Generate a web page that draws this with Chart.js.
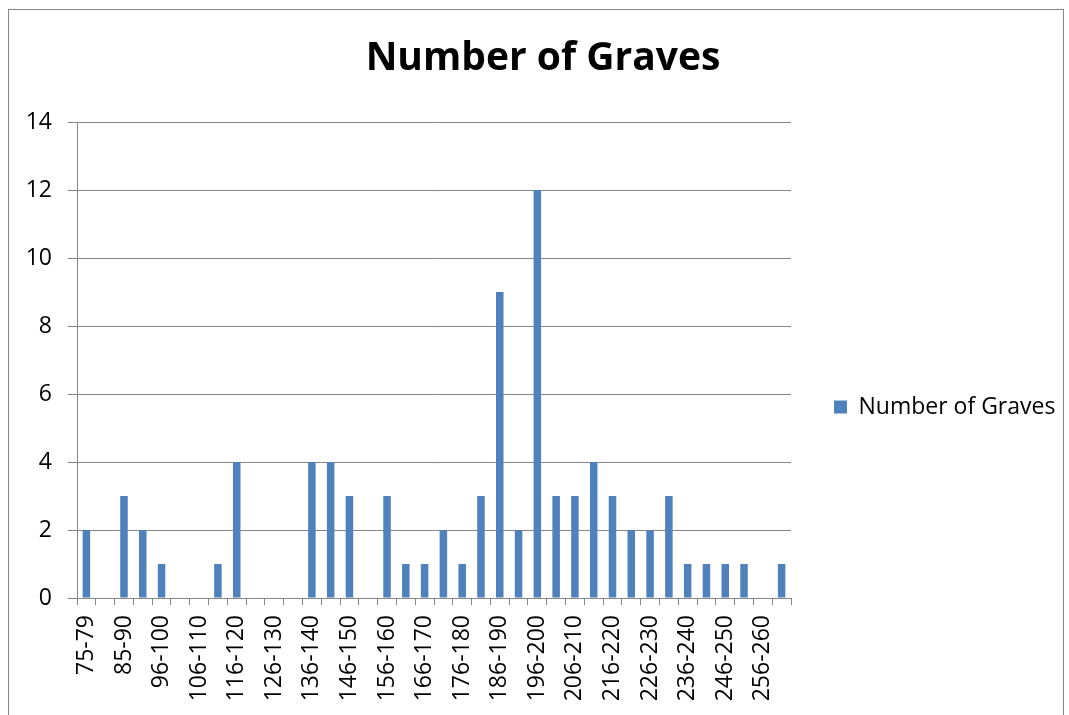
<!DOCTYPE html>
<html>
<head>
<meta charset="utf-8">
<script src="https://cdn.jsdelivr.net/npm/chart.js@4/dist/chart.umd.min.js"></script>
<style>
  html, body { margin: 0; padding: 0; background: #fff; }
  canvas { display: block; }
</style>
</head>
<body>
<canvas id="chart" width="1069" height="715"></canvas>
<script>
// grave size classes (only every second one is labelled on the axis)
var sizeClasses = [
  "75-79", "80-84", "85-90", "91-95", "96-100", "101-105", "106-110", "111-115",
  "116-120", "121-125", "126-130", "131-135", "136-140", "141-145", "146-150", "151-155",
  "156-160", "161-165", "166-170", "171-175", "176-180", "181-185", "186-190", "191-195",
  "196-200", "201-205", "206-210", "211-215", "216-220", "221-225", "226-230", "231-235",
  "236-240", "241-245", "246-250", "251-255", "256-260", "261-265"
];
var graveCounts = [
  2, 0, 3, 2, 1, 0, 0, 1,
  4, 0, 0, 0, 4, 4, 3, 0,
  3, 1, 1, 2, 1, 3, 9, 2,
  12, 3, 3, 4, 3, 2, 2, 3,
  1, 1, 1, 1, 0, 1
];
var yTicks = [0, 2, 4, 6, 8, 10, 12, 14];

var fontName = "'Open Sans'";
var gridGrey = "#868686";

// outer frame like the spreadsheet chart border
var framePlugin = {
  id: "frame",
  beforeDraw: function (chart) {
    var c = chart.ctx;
    c.save();
    c.strokeStyle = gridGrey;
    c.lineWidth = 1;
    c.strokeRect(8.5, 9.5, 1055, 720);
    c.restore();
  }
};

var ctx = document.getElementById("chart").getContext("2d");
new Chart(ctx, {
  type: "bar",
  data: {
    labels: sizeClasses,
    datasets: [{
      label: "Number of Graves",
      data: graveCounts,
      backgroundColor: "#4F81BD",
      borderWidth: 0,
      categoryPercentage: 1.0,
      barPercentage: 0.4
    }]
  },
  options: {
    responsive: false,
    animation: false,
    layout: { padding: { top: 10, left: 25, right: 8, bottom: -89 } },
    plugins: {
      title: {
        display: true,
        text: "Number of Graves",
        color: "#000",
        font: { family: fontName, size: 39, weight: "bold" },
        padding: { top: 25, bottom: 40.2 }
      },
      legend: {
        display: true,
        position: "right",
        maxWidth: 270,
        labels: {
          color: "#000",
          font: { family: fontName, size: 23 },
          boxWidth: 13,
          boxHeight: 13,
          padding: 43
        }
      },
      tooltip: { enabled: false }
    },
    scales: {
      x: {
        offset: true,
        grid: {
          offset: true,
          drawOnChartArea: false,
          drawTicks: true,
          tickLength: 7,
          color: gridGrey
        },
        border: { color: gridGrey, width: 1 },
        ticks: {
          autoSkip: false,
          minRotation: 90,
          maxRotation: 90,
          padding: 10,
          color: "#000",
          font: { family: fontName, size: 23 },
          callback: function (value, index) {
            return index % 2 === 0 ? sizeClasses[index] : "";
          }
        },
        afterFit: function (scale) { scale.height = 206; }
      },
      y: {
        min: 0,
        max: 14,
        grid: { color: gridGrey, tickLength: 9, drawTicks: true },
        border: { color: gridGrey, width: 1 },
        ticks: {
          stepSize: 2,
          padding: 16,
          color: "#000",
          font: { family: fontName, size: 23 },
          callback: function (value) { return yTicks.indexOf(value) >= 0 ? value : ""; }
        },
        afterFit: function (scale) { scale.width = 52; }
      }
    }
  },
  plugins: [framePlugin]
});
</script>
</body>
</html>
